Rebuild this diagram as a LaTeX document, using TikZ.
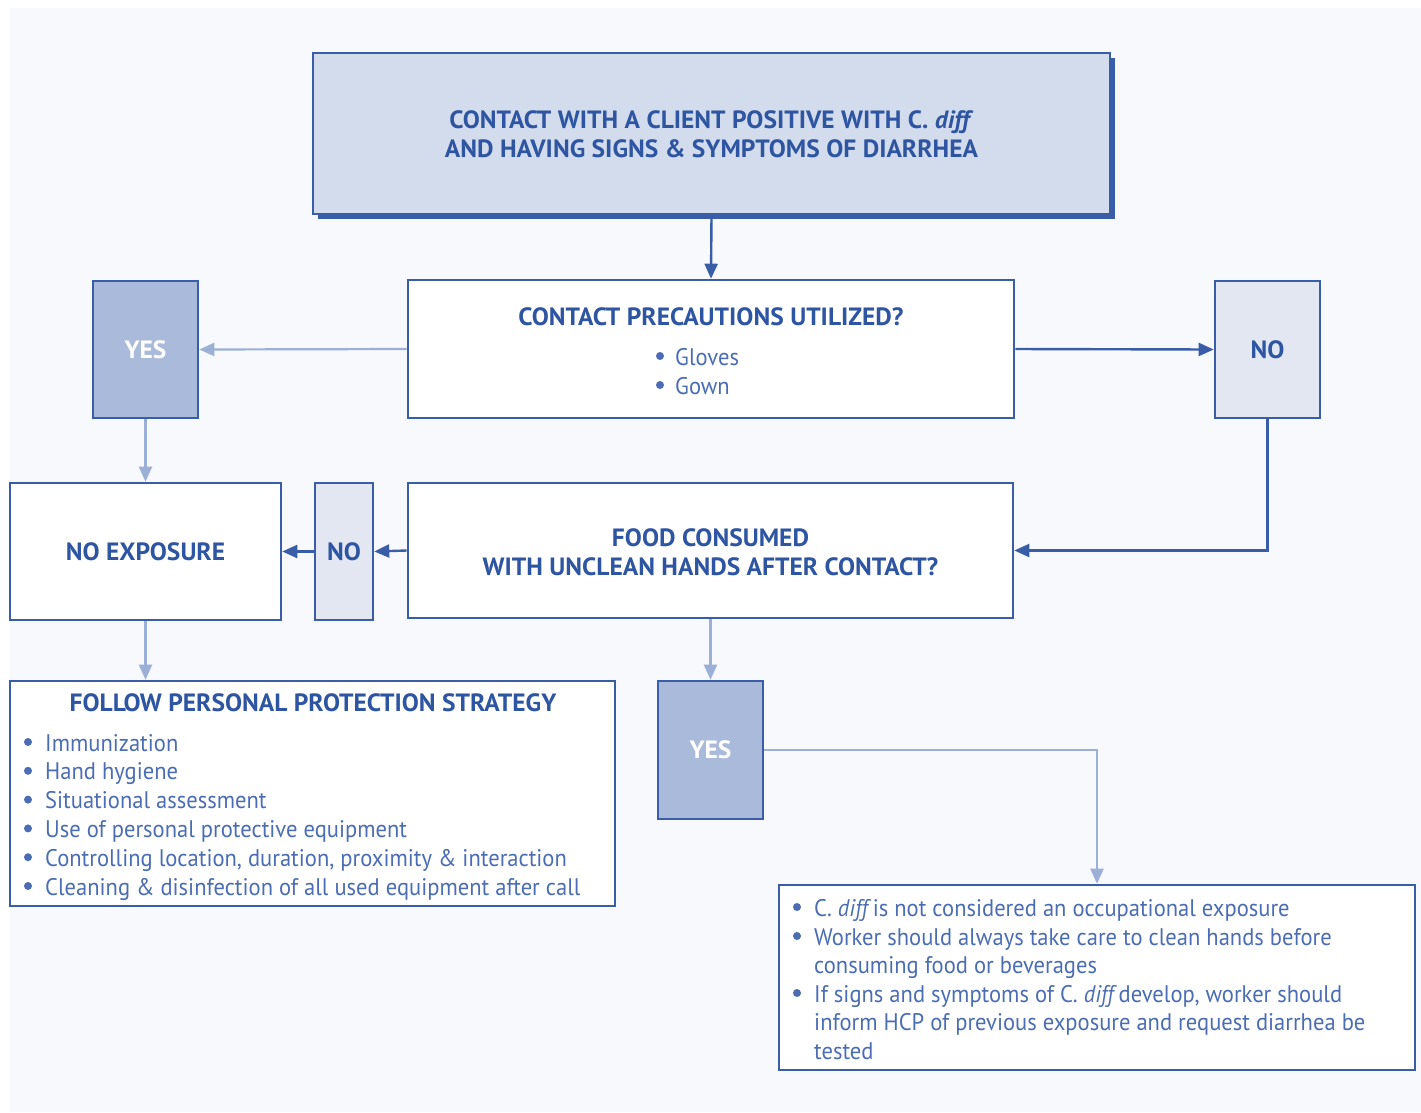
\documentclass[tikz,border=0pt]{standalone}
\usepackage{fontspec}
\setmainfont{PT Sans}[FakeStretch=0.94]
\newfontfamily\headfont{PT Sans}[FakeStretch=1.02]
\usetikzlibrary{arrows.meta,shadows}
\definecolor{bgcol}{HTML}{F8F9FC}
\definecolor{navy}{HTML}{3A5DA8}
\definecolor{txtdark}{HTML}{2E55A2}
\definecolor{txtlight}{HTML}{4B6DB4}
\definecolor{paleblue}{HTML}{D3DCEC}
\definecolor{midblue}{HTML}{AABADB}
\definecolor{faintblue}{HTML}{E2E7F2}
\definecolor{linklight}{HTML}{9CB0D7}
% italic species name with a slightly tightened following gap
\newcommand{\cdiff}{{\itshape diff}\kern-1pt}
\tikzset{
  box/.style={draw=navy, line width=2.6pt, inner sep=0pt},
  whitebox/.style={box, fill=white},
  yesbox/.style={box, fill=midblue},
  nobox/.style={box, fill=faintblue},
  headtxt/.style={text=txtdark, font=\headfont\fontsize{25}{29}\selectfont\bfseries, align=center, inner sep=0pt},
  yestxt/.style={text=white, font=\headfont\fontsize{25}{29}\selectfont\bfseries, inner sep=0pt},
  itemtxt/.style={text=txtlight, font=\fontsize{24}{29}\selectfont, anchor=base west, inner sep=0pt},
  dot/.style={circle, fill=txtlight, inner sep=0pt, minimum size=8pt},
  darklink/.style={navy, line width=2.4pt, -{Triangle[length=15pt,width=13pt]}},
  lightlink/.style={linklight, line width=2.2pt, -{Triangle[length=15pt,width=13pt]}},
}
\begin{document}
\begin{tikzpicture}[x=1pt, y=-1pt]
\useasboundingbox (0,0) rectangle (1421,1112);
\fill[bgcol] (10,8) rectangle (1421,1112);

% boxes
\node[box, fill=paleblue, minimum width=797pt, minimum height=161pt,
      drop shadow={shadow xshift=5pt, shadow yshift=-5pt, fill=navy, opacity=1}]
      (top) at (711.5,133.5) {};
\node[whitebox, minimum width=606pt, minimum height=138pt] (cp) at (711,349) {};
\node[yesbox, minimum width=105pt, minimum height=137pt] (yesA) at (145.5,349.5) {};
\node[nobox, minimum width=105pt, minimum height=137pt] (noA) at (1267.5,349.5) {};
\node[whitebox, minimum width=605pt, minimum height=135pt] (food) at (710.5,550.5) {};
\node[nobox, minimum width=58pt, minimum height=137pt] (noB) at (344,551.5) {};
\node[whitebox, minimum width=271pt, minimum height=137pt] (noexp) at (145.5,551.5) {};
\node[whitebox, minimum width=605pt, minimum height=225pt] (strategy) at (312.5,793.5) {};
\node[yesbox, minimum width=105pt, minimum height=138pt] (yesB) at (710.5,750) {};
\node[whitebox, minimum width=636pt, minimum height=185pt] (info) at (1097,977.5) {};

% texts
\node[headtxt] (toptxt) at (711.5,134) {CONTACT WITH A CLIENT POSITIVE WITH C. \textit{diff}\\AND HAVING SIGNS \& SYMPTOMS OF DIARRHEA};
\node[headtxt] (cptitle) at (711,317) {CONTACT PRECAUTIONS UTILIZED?};
\node[dot] (cpd1) at (660,356) {};
\node[itemtxt] (cpi1) at (675,365) {Gloves};
\node[dot] (cpd2) at (660,385) {};
\node[itemtxt] (cpi2) at (675,394) {Gown};
\node[yestxt] (yesAtxt) at (yesA) {YES};
\node[headtxt] (noAtxt) at (noA) {NO};
\node[headtxt] (foodtxt) at (710.5,552) {FOOD CONSUMED\\WITH UNCLEAN HANDS AFTER CONTACT?};
\node[headtxt] (noBtxt) at (noB) {NO};
\node[headtxt] (noexptxt) at (noexp) {NO EXPOSURE};
\node[headtxt] (sttitle) at (313,703) {FOLLOW PERSONAL PROTECTION STRATEGY};
\foreach \t [count=\i] in {Immunization, Hand hygiene, Situational assessment,
  Use of personal protective equipment,
  {Controlling location, duration, proximity \& interaction},
  Cleaning \& disinfection of all used equipment after call}{
  \node[dot] (sd\i) at (28,{742+28.8*(\i-1)}) {};
  \node[itemtxt] (si\i) at (45,{751+28.8*(\i-1)}) {\t};
}
\node[yestxt] (yesBtxt) at (yesB) {YES};
\node[dot] (id1) at (797,907) {};
\node[itemtxt] (ii1) at (814,916) {C. \cdiff{} is not considered an occupational exposure};
\node[dot] (id2) at (797,936) {};
\node[itemtxt] (ii2) at (814,945) {Worker should always take care to clean hands before};
\node[itemtxt] (ii3) at (814,973.5) {consuming food or beverages};
\node[dot] (id3) at (797,993) {};
\node[itemtxt] (ii4) at (814,1002) {If signs and symptoms of C. \cdiff{} develop, worker should};
\node[itemtxt] (ii5) at (814,1030.5) {inform HCP of previous exposure and request diarrhea be};
\node[itemtxt] (ii6) at (814,1059) {tested};

% connectors
\draw[darklink] (top.south) -- (cp.north);
\draw[lightlink] (cp.west) -- (yesA.east);
\draw[darklink] (cp.east) -- (noA.west);
\draw[lightlink] (yesA.south) -- (noexp.north);
\draw[darklink] (noA.south) |- (food.east);
\draw[darklink] (food.west) -- (noB.east);
\draw[darklink] (noB.west) -- (noexp.east);
\draw[lightlink] (noexp.south) -- (strategy.north -| noexp.south);
\draw[lightlink] (food.south) -- (yesB.north);
\draw[lightlink] (yesB.east) -| (info.north);
\end{tikzpicture}
\end{document}
